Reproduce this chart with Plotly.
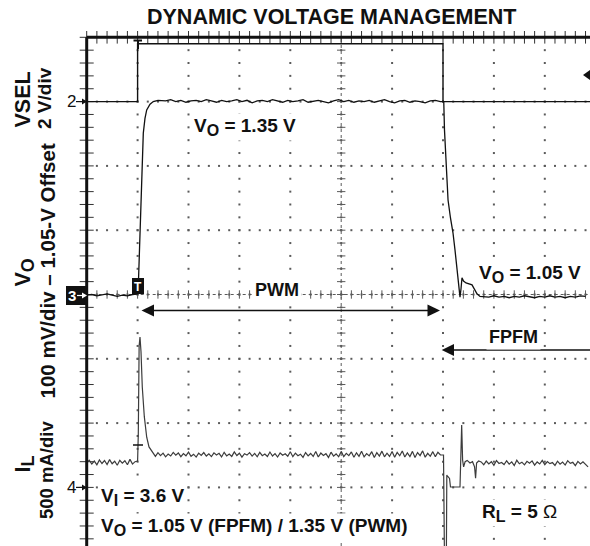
import numpy as np
import plotly.graph_objects as go

# ---------------- graticule geometry (screen pixels) ----------------
W, H = 590, 546
GRID_LEFT_PX = 86.7
GRID_TOP_PX = 37.3
DIV_X_PX = 50.9
DIV_Y_PX = 64.3
CENTER_Y_PX = GRID_TOP_PX + 4 * DIV_Y_PX

X_RANGE = [-GRID_LEFT_PX / DIV_X_PX, (W - GRID_LEFT_PX) / DIV_X_PX]
DIV_RANGE = [-(H - CENTER_Y_PX) / DIV_Y_PX, CENTER_Y_PX / DIV_Y_PX]

# ---------------- channel settings ----------------
VSEL_SCALE, VSEL_POS, VSEL_OFFSET = 2.0, 3.0, 0.0     # V/div, div, V
VO_SCALE, VO_POS, VO_OFFSET = 0.1, 0.0, 1.05          # V/div, div, V
IL_SCALE, IL_POS, IL_OFFSET = 0.5, -3.0, 0.0          # A/div, div, A

# ---------------- VSEL (V) ----------------
vsel_t = [0.0, 1.0, 1.0, 7.0, 7.0, 9.9]
vsel_v = [0.0, 0.0, 1.8, 1.8, 0.0, 0.0]

# ---------------- VO (V) ----------------
VO_SAMPLE = 0.1
vo_pre_t0 = 0.0
vo_pre = [1.049, 1.050, 1.048, 1.049, 1.051, 1.049, 1.047, 1.049, 1.048, 1.050]
vo_rise_t = [1.002, 1.018, 1.037, 1.081, 1.096, 1.112, 1.145, 1.179, 1.244, 1.308, 1.401]
vo_rise_v = [1.051, 1.073, 1.119, 1.197, 1.251, 1.301, 1.324, 1.337, 1.346, 1.350, 1.352]
vo_top_t0 = 1.45
vo_top = [1.352, 1.351, 1.353, 1.350, 1.352, 1.349, 1.351, 1.352, 1.350, 1.353,
          1.351, 1.349, 1.352, 1.350, 1.351, 1.353, 1.350, 1.352, 1.348, 1.351,
          1.352, 1.350, 1.353, 1.351, 1.349, 1.352, 1.350, 1.351, 1.353, 1.349,
          1.351, 1.352, 1.350, 1.348, 1.351, 1.353, 1.350, 1.352, 1.349, 1.351,
          1.350, 1.352, 1.349, 1.351, 1.353, 1.350, 1.348, 1.351, 1.352, 1.349,
          1.351, 1.350, 1.348, 1.351, 1.352, 1.350]
vo_fall_t = [7.015, 7.029, 7.059, 7.099, 7.147, 7.196, 7.236, 7.275, 7.314, 7.334,
             7.354, 7.373, 7.403, 7.452, 7.570, 7.609, 7.668, 7.727]
vo_fall_v = [1.350, 1.306, 1.251, 1.197, 1.169, 1.146, 1.119, 1.091, 1.062, 1.046,
             1.059, 1.076, 1.071, 1.068, 1.065, 1.059, 1.051, 1.047]
vo_post_t0 = 7.8
vo_post = [1.047, 1.046, 1.048, 1.046, 1.047, 1.045, 1.047, 1.046, 1.048, 1.047,
           1.045, 1.047, 1.046, 1.048, 1.046, 1.047, 1.045, 1.047, 1.046, 1.048, 1.047]

# ---------------- IL (A) ----------------
IL_SAMPLE = 0.05
il_pre_t0 = 0.0
il_pre = [0.190, 0.212, 0.182, 0.205, 0.176, 0.214, 0.186, 0.209, 0.178, 0.216,
          0.184, 0.203, 0.172, 0.211, 0.188, 0.207, 0.176, 0.218, 0.181, 0.200]
il_spike_t = [1.000, 1.014, 1.030, 1.047, 1.067, 1.092, 1.132, 1.179, 1.224, 1.277]
il_spike_v = [0.205, 0.420, 1.100, 1.170, 1.055, 0.780, 0.550, 0.390, 0.315, 0.285]
il_on_t0 = 1.30
il_on = [0.262, 0.241, 0.270, 0.247, 0.266, 0.238, 0.259, 0.244, 0.272, 0.250,
         0.268, 0.239, 0.263, 0.246, 0.274, 0.242, 0.258, 0.236, 0.267, 0.249,
         0.271, 0.244, 0.261, 0.240, 0.269, 0.252, 0.265, 0.237, 0.273, 0.245,
         0.260, 0.241, 0.276, 0.248, 0.266, 0.235, 0.262, 0.251, 0.270, 0.243,
         0.264, 0.238, 0.272, 0.247, 0.259, 0.240, 0.275, 0.244, 0.263, 0.236,
         0.268, 0.250, 0.261, 0.242, 0.277, 0.239, 0.266, 0.246, 0.258, 0.234,
         0.271, 0.245, 0.264, 0.241, 0.279, 0.236, 0.267, 0.248, 0.262, 0.233,
         0.274, 0.243, 0.260, 0.238, 0.280, 0.240, 0.265, 0.247, 0.276, 0.235,
         0.269, 0.242, 0.281, 0.237, 0.263, 0.245, 0.278, 0.232, 0.270, 0.244,
         0.282, 0.238, 0.266, 0.241, 0.279, 0.234, 0.272, 0.246, 0.283, 0.236,
         0.268, 0.240, 0.280, 0.233, 0.271, 0.247, 0.284, 0.235, 0.265, 0.242,
         0.278, 0.239, 0.273, 0.252]
il_step_t = [7.010, 7.030, 7.065, 7.075, 7.085, 7.128, 7.147, 7.334, 7.350, 7.367,
             7.385, 7.405, 7.435, 7.475, 7.530, 7.580, 7.620, 7.640, 7.660, 7.700]
il_step_v = [0.252, -0.600, -0.600, 0.096, 0.090, 0.070, 0.003, 0.003, 0.213, 0.485,
             0.213, 0.160, 0.200, 0.210, 0.190, 0.200, 0.160, 0.071, 0.190, 0.205]
il_off_t0 = 7.75
il_off = [0.198, 0.176, 0.205, 0.183, 0.200, 0.172, 0.209, 0.186, 0.194, 0.178,
          0.207, 0.181, 0.199, 0.170, 0.211, 0.184, 0.196, 0.175, 0.203, 0.188,
          0.206, 0.173, 0.198, 0.182, 0.210, 0.177, 0.201, 0.185, 0.193, 0.171,
          0.204, 0.180, 0.197, 0.174, 0.208, 0.187, 0.195, 0.169, 0.202, 0.183,
          0.199, 0.176, 0.160]


def sampled(t0, step, values):
    return list(t0 + step * np.arange(len(values)))


vo_t = (sampled(vo_pre_t0, VO_SAMPLE, vo_pre) + vo_rise_t + sampled(vo_top_t0, VO_SAMPLE, vo_top)
        + vo_fall_t + sampled(vo_post_t0, VO_SAMPLE, vo_post))
vo_v = vo_pre + vo_rise_v + vo_top + vo_fall_v + vo_post

il_t = (sampled(il_pre_t0, IL_SAMPLE, il_pre) + il_spike_t + sampled(il_on_t0, IL_SAMPLE, il_on)
        + il_step_t + sampled(il_off_t0, IL_SAMPLE, il_off))
il_v = il_pre + il_spike_v + il_on + il_step_v + il_off


def chan_range(scale, pos, offset):
    return [offset + (DIV_RANGE[0] - pos) * scale, offset + (DIV_RANGE[1] - pos) * scale]


FONT = "Liberation Sans, Arial, Helvetica, sans-serif"
INK = "#111111"
GRID = "#5a5a5a"

fig = go.Figure()

# ---------------- graticule (div units) ----------------
minor_x = np.round(np.arange(0, 10.001, 0.2), 3)
minor_y = np.round(np.arange(-4, 4.001, 0.2), 3)
gx, gy = [], []
for mx in range(1, 10):
    gx += [mx] * len(minor_y)
    gy += list(minor_y)
for my in range(-3, 4):
    gx += list(minor_x)
    gy += [my] * len(minor_x)
fig.add_trace(go.Scatter(x=gx, y=gy, mode="markers", yaxis="y",
                         marker=dict(symbol="square", size=2, color=GRID, line=dict(width=0)),
                         hoverinfo="skip", showlegend=False))
# tick crosses on the center axes
fig.add_trace(go.Scatter(x=list(minor_x), y=[0] * len(minor_x), mode="markers", yaxis="y",
                         marker=dict(symbol="line-ns", size=6, line=dict(width=1, color=GRID)),
                         hoverinfo="skip", showlegend=False))
fig.add_trace(go.Scatter(x=[5] * len(minor_y), y=list(minor_y), mode="markers", yaxis="y",
                         marker=dict(symbol="line-ew", size=6, line=dict(width=1, color=GRID)),
                         hoverinfo="skip", showlegend=False))
# ticks along the frame edges
fig.add_trace(go.Scatter(x=list(minor_x), y=[4] * len(minor_x), mode="markers", yaxis="y",
                         marker=dict(symbol="line-ns", size=9, line=dict(width=1, color="#333")),
                         hoverinfo="skip", showlegend=False))
fig.add_trace(go.Scatter(x=[0] * len(minor_y), y=list(minor_y), mode="markers", yaxis="y",
                         marker=dict(symbol="line-ew", size=10, line=dict(width=1, color="#333")),
                         hoverinfo="skip", showlegend=False))

# ---------------- waveforms ----------------
fig.add_trace(go.Scatter(x=vsel_t, y=vsel_v, mode="lines", yaxis="y2",
                         line=dict(color="#111", width=1.4), hoverinfo="skip", showlegend=False))
fig.add_trace(go.Scatter(x=vo_t, y=vo_v, mode="lines", yaxis="y3",
                         line=dict(color="#111", width=1.3), hoverinfo="skip", showlegend=False))
fig.add_trace(go.Scatter(x=il_t, y=il_v, mode="lines", yaxis="y4",
                         line=dict(color="#3c3c3c", width=1.2), hoverinfo="skip", showlegend=False))


# ---------------- helpers for decorations in pixel space ----------------
def px(x):
    return x / W


def py(y):
    return 1 - y / H


def tri(tip_x, tip_y, base_x, half):
    return (f"M {px(tip_x)},{py(tip_y)} L {px(base_x)},{py(tip_y - half)} "
            f"L {px(base_x)},{py(tip_y + half)} Z")


shapes = []
# frame (top and left edges of the graticule)
shapes.append(dict(type="line", xref="x", yref="y", x0=0, x1=X_RANGE[1], y0=4, y1=4,
                   line=dict(color="#111", width=3)))
shapes.append(dict(type="line", xref="x", yref="y", x0=0, x1=0, y0=DIV_RANGE[0], y1=4,
                   line=dict(color="#111", width=3)))
# dense dotted center axes
shapes.append(dict(type="line", xref="x", yref="y", x0=0, x1=X_RANGE[1], y0=0, y1=0,
                   line=dict(color=GRID, width=1, dash="dot"), layer="below"))
shapes.append(dict(type="line", xref="x", yref="y", x0=5, x1=5, y0=DIV_RANGE[0], y1=4,
                   line=dict(color=GRID, width=1, dash="dot"), layer="below"))

# PWM double arrow
shapes.append(dict(type="line", xref="paper", yref="paper", x0=px(150), x1=px(432),
                   y0=py(310.5), y1=py(310.5), line=dict(color="#111", width=1.6)))
shapes.append(dict(type="path", xref="paper", yref="paper", path=tri(141.5, 310.5, 154, 6),
                   fillcolor="#111", line=dict(width=0)))
shapes.append(dict(type="path", xref="paper", yref="paper", path=tri(440, 310.5, 427.5, 6),
                   fillcolor="#111", line=dict(width=0)))
# FPFM arrow
shapes.append(dict(type="line", xref="paper", yref="paper", x0=px(450), x1=px(592),
                   y0=py(350), y1=py(350), line=dict(color="#111", width=1.6)))
shapes.append(dict(type="path", xref="paper", yref="paper", path=tri(441.7, 350, 454, 6),
                   fillcolor="#111", line=dict(width=0)))

# trigger-position marker at the top
shapes.append(dict(type="line", xref="paper", yref="paper", x0=px(133.5), x1=px(142),
                   y0=py(40.5), y1=py(40.5), line=dict(color="#111", width=2)))
shapes.append(dict(type="line", xref="paper", yref="paper", x0=px(138), x1=px(138),
                   y0=py(40), y1=py(49), line=dict(color="#111", width=2)))
# VSEL trigger level indicator on the right edge
shapes.append(dict(type="path", xref="paper", yref="paper", path=tri(583, 75, 592, 6.5),
                   fillcolor="#111", line=dict(width=0)))
# IL trigger level tick
shapes.append(dict(type="line", xref="paper", yref="paper", x0=px(133), x1=px(143),
                   y0=py(445), y1=py(445), line=dict(color="#111", width=1.5)))

# channel ground markers
for ymark in (101.6, 487.4):
    shapes.append(dict(type="line", xref="paper", yref="paper", x0=px(76), x1=px(84),
                       y0=py(ymark), y1=py(ymark), line=dict(color="#111", width=1.2)))
    shapes.append(dict(type="path", xref="paper", yref="paper", path=tri(87, ymark, 82, 3),
                       fillcolor="#111", line=dict(width=0)))
shapes.append(dict(type="rect", xref="paper", yref="paper", x0=px(66), x1=px(87.5),
                   y0=py(305), y1=py(286), fillcolor="#111", line=dict(width=0)))
shapes.append(dict(type="line", xref="paper", yref="paper", x0=px(77), x1=px(84),
                   y0=py(295.5), y1=py(295.5), line=dict(color="white", width=1.2)))
shapes.append(dict(type="path", xref="paper", yref="paper", path=tri(87, 295.5, 82, 3),
                   fillcolor="white", line=dict(width=0)))
# trigger box on VO trace
shapes.append(dict(type="rect", xref="paper", yref="paper", x0=px(132), x1=px(144),
                   y0=py(294), y1=py(278), fillcolor="#111", line=dict(width=0)))

annotations = []


def sub(s, size):
    # subscript drawn a little larger than plotly's default 70 %
    return f"<sub><span style='font-size:{size}px'>{s}</span></sub>"


def label(text, x, y, size, xanchor="center", yanchor="middle", angle=0, bold=True,
          color=INK, bg=None, pad=1):
    a = dict(text=f"<b>{text}</b>" if bold else text, xref="paper", yref="paper",
             x=px(x), y=py(y), xanchor=xanchor, yanchor=yanchor, showarrow=False,
             textangle=angle, font=dict(family=FONT, size=size, color=color), borderpad=pad)
    if bg:
        a["bgcolor"] = bg
    annotations.append(a)


label("DYNAMIC VOLTAGE MANAGEMENT", 331, 17, 21.5)
label("VSEL", 22.5, 100, 21.5, angle=-90)
label("2 V/div", 44, 98, 19, angle=-90)
label("V" + sub("O", 18), 24.5, 273, 21.5, angle=-90)
label("100 mV/div \u2013 1.05-V Offset", 46.5, 271, 20.5, angle=-90)
label("I" + sub("L", 18), 24.5, 464, 21.5, angle=-90)
label("500 mA/div", 46, 470, 18.5, angle=-90)

label("2", 71, 101.6, 17, bold=False)
label("4", 71, 487.4, 17, bold=False)
label("3", 71.5, 295.5, 15, color="white")
label("T", 138, 286.5, 12, color="white")

label("V" + sub("O", 16) + " = 1.35 V", 192, 127, 19, xanchor="left", bg="white")
label("PWM", 276.5, 290, 18, bg="white", pad=2)
label("V" + sub("O", 16) + " = 1.05 V", 477, 274, 19, xanchor="left", bg="white")
label("FPFM", 513.5, 337, 18, bg="white", pad=2)
label("V" + sub("I", 16) + " = 3.6 V", 99, 497, 19, xanchor="left", bg="white")
label("V" + sub("O", 16) + " = 1.05 V (FPFM) / 1.35 V (PWM)", 99, 527, 19,
      xanchor="left", bg="white")
label("<b>R" + sub("L", 16) + " = 5 </b>\u03a9", 480, 513, 19, xanchor="left", bold=False, bg="white")

hidden = dict(visible=False, showgrid=False, zeroline=False, fixedrange=True)
fig.update_layout(
    width=W, height=H,
    margin=dict(l=0, r=0, t=0, b=0),
    paper_bgcolor="white", plot_bgcolor="white",
    xaxis=dict(range=X_RANGE, **hidden),
    yaxis=dict(range=DIV_RANGE, **hidden),
    yaxis2=dict(range=chan_range(VSEL_SCALE, VSEL_POS, VSEL_OFFSET), overlaying="y", **hidden),
    yaxis3=dict(range=chan_range(VO_SCALE, VO_POS, VO_OFFSET), overlaying="y", **hidden),
    yaxis4=dict(range=chan_range(IL_SCALE, IL_POS, IL_OFFSET), overlaying="y", **hidden),
    shapes=shapes,
    annotations=annotations,
    showlegend=False,
)

fig.write_html("out.html")
